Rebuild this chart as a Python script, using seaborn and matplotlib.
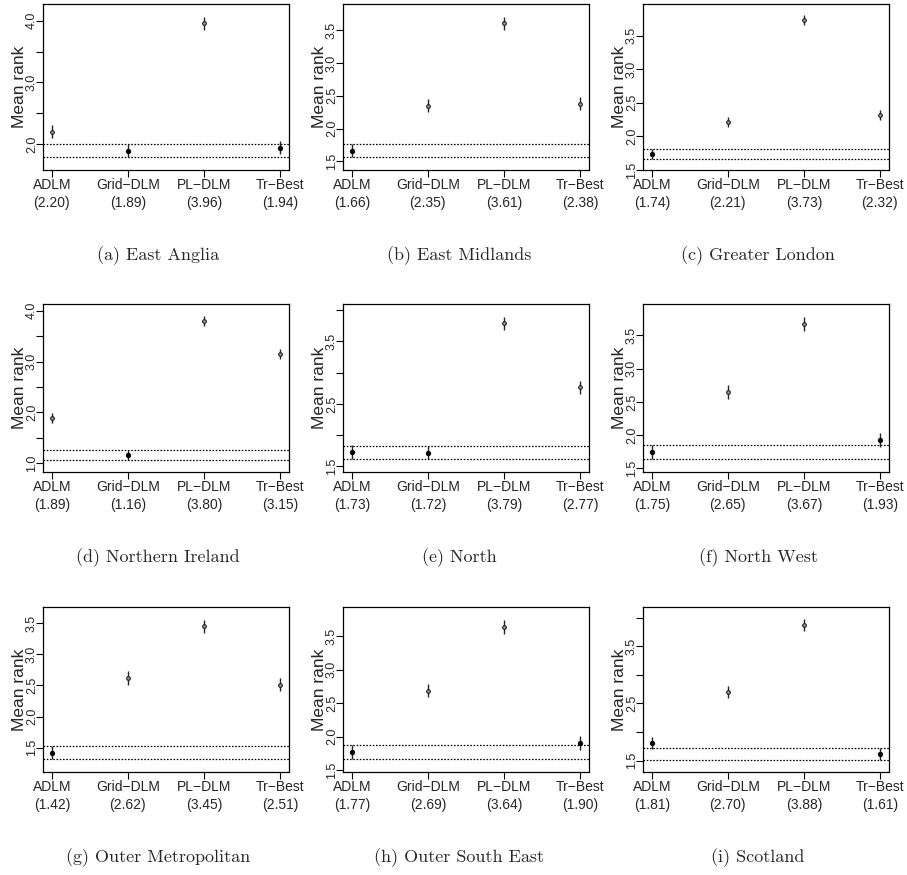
import numpy as np
import pandas as pd
import matplotlib
matplotlib.use("Agg")
import matplotlib.pyplot as plt
import seaborn as sns

# ---------------- data ----------------
methods = ["ADLM", "Grid\u2212DLM", "PL\u2212DLM", "Tr\u2212Best"]
regions = ["East Anglia", "East Midlands", "Greater London",
           "Northern Ireland", "North", "North West",
           "Outer Metropolitan", "Outer South East", "Scotland"]
letters = ["a", "b", "c", "d", "e", "f", "g", "h", "i"]

mean_east_anglia = [2.20, 1.89, 3.96, 1.94]
mean_east_midlands = [1.66, 2.35, 3.61, 2.38]
mean_greater_london = [1.74, 2.21, 3.73, 2.32]
mean_northern_ireland = [1.89, 1.16, 3.80, 3.15]
mean_north = [1.73, 1.72, 3.79, 2.77]
mean_north_west = [1.75, 2.65, 3.67, 1.93]
mean_outer_metropolitan = [1.42, 2.62, 3.45, 2.51]
mean_outer_south_east = [1.77, 2.69, 3.64, 1.90]
mean_scotland = [1.81, 2.70, 3.88, 1.61]

# half width of the interval around each mean rank (per region)
half_width = [0.105, 0.100, 0.075, 0.105, 0.105, 0.105, 0.105, 0.104, 0.102]

all_means = [mean_east_anglia, mean_east_midlands, mean_greater_london,
             mean_northern_ireland, mean_north, mean_north_west,
             mean_outer_metropolitan, mean_outer_south_east, mean_scotland]

# ---------------- style ----------------
sns.set_style("white")
plt.rcParams['font.family'] = ['Liberation Sans', 'DejaVu Sans']

W, H = 907, 875
fig = plt.figure(figsize=(W / 100, H / 100), dpi=100)

col_left = [42.7, 342.7, 642.7]
ax_w = 246.3
row_top = [4, 304, 607]
row_bot = [170, 472, 772]
cap_x = [158, 459, 758]
label_every = [2, 1, 1, 2, 2, 1, 1, 1, 2]

for k in range(9):
    r, c = divmod(k, 3)
    left = col_left[c]
    top, bot = row_top[r], row_bot[r]
    ax = fig.add_axes([left / W, 1 - bot / H, ax_w / W, (bot - top) / H])

    means = np.array(all_means[k])
    h = half_width[k]
    best = means.min()
    df = pd.DataFrame({"pos": np.arange(1, 5), "mean": means,
                       "method": methods})
    df["equiv"] = (df["mean"] - best) <= 2 * h + 1e-9

    # intervals
    ax.vlines(df["pos"], df["mean"] - h, df["mean"] + h,
              color="#222222", lw=1.0, zorder=2)
    # band around best
    for yv in (best - h, best + h):
        ax.axhline(yv, color="black", lw=0.9, ls=(0, (1.3, 1.3)), zorder=1)

    sns.scatterplot(data=df[df["equiv"]], x="pos", y="mean", ax=ax,
                    color="black", edgecolor="black", s=11, linewidth=0.5,
                    legend=False, zorder=3)
    sns.scatterplot(data=df[~df["equiv"]], x="pos", y="mean", ax=ax,
                    color="#9a9a9a", edgecolor="#222222", s=7, linewidth=0.8,
                    legend=False, zorder=3)

    lo = means.min() - 2 * h
    hi = means.max() + 2 * h
    ext = 0.04 * (hi - lo)
    ax.set_ylim(lo - ext, hi + ext)
    ax.set_xlim(0.88, 4.12)

    ticks = np.arange(np.ceil((lo - ext) * 2) / 2, hi + ext + 1e-9, 0.5)
    ax.set_yticks(ticks)
    labs = [f"{t:.1f}" if (i % label_every[k] == 0) else ""
            for i, t in enumerate(ticks)]
    ax.set_yticklabels(labs, fontsize=9, rotation=90, va="center")

    ax.set_xticks(df["pos"])
    ax.set_xticklabels([f"{m}\n({v:.2f})" for m, v in zip(methods, means)],
                       fontsize=10, linespacing=1.3)

    ax.tick_params(axis="both", direction="out", length=5, width=0.8,
                   color="black", left=True, bottom=True)
    ax.tick_params(axis="x", pad=1.0)
    ax.tick_params(axis="y", pad=-1.5)

    ax.set_xlabel("")
    ax.set_ylabel("Mean rank", fontsize=12.5)
    ax.yaxis.set_label_coords(-(42.7 - 27.2) / ax_w, 0.5)
    for sp in ax.spines.values():
        sp.set_visible(True)
        sp.set_color("black")
        sp.set_linewidth(0.9)

    cap_y = bot + 86
    fig.text(cap_x[c] / W, 1 - cap_y / H, f"({letters[k]}) {regions[k]}",
             ha="center", va="center", fontsize=13,
             family=["cmr10", "DejaVu Serif"])

fig.savefig("out.png", dpi=100)
